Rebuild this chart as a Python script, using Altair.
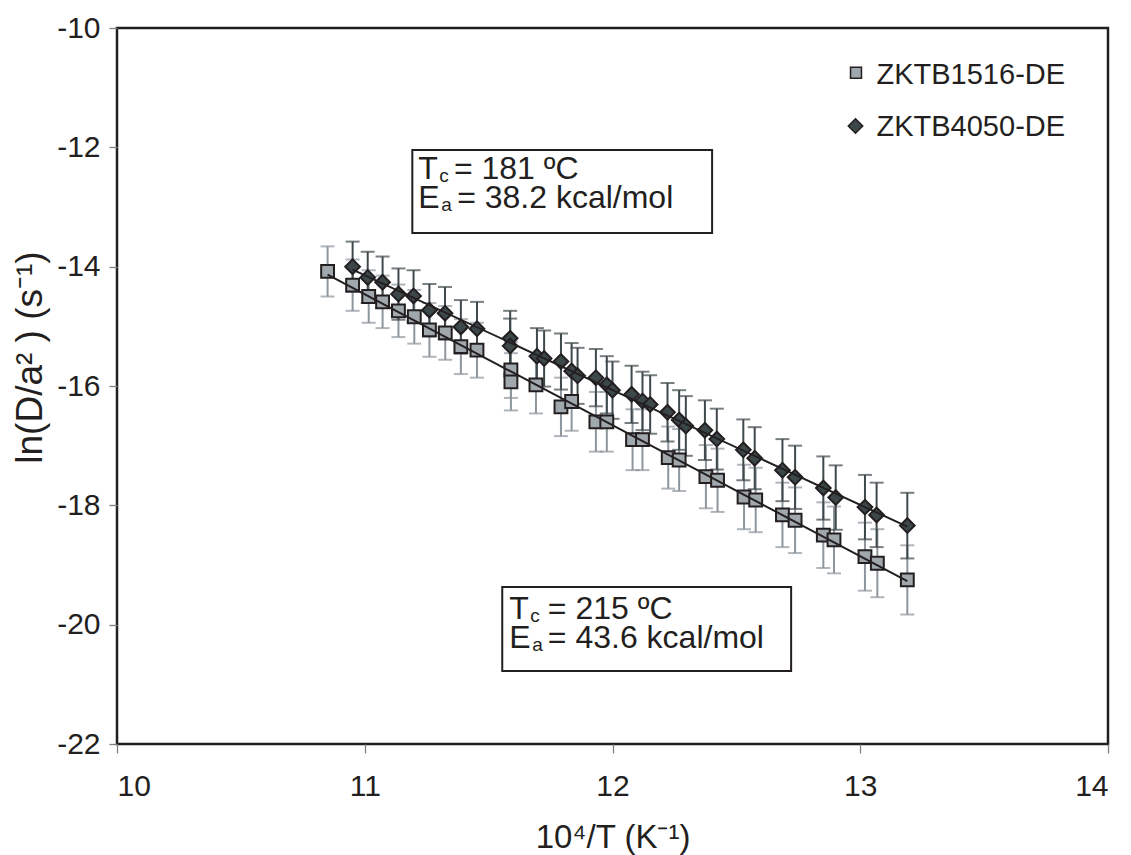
import altair as alt
import pandas as pd

# ---------------- data ----------------
series_names = ["ZKTB1516-DE", "ZKTB4050-DE"]

sq_x = [10.850, 10.951, 11.016, 11.072, 11.136, 11.200, 11.261, 11.325, 11.388, 11.453,
        11.590, 11.590, 11.691, 11.792, 11.835, 11.933, 11.977, 12.081, 12.121, 12.225,
        12.269, 12.377, 12.424, 12.531, 12.578, 12.686, 12.737, 12.851, 12.894, 13.019,
        13.069, 13.190]
sq_y = [-14.08, -14.31, -14.50, -14.59, -14.74, -14.84, -15.06, -15.11, -15.34, -15.40,
        -15.73, -15.93, -15.98, -16.35, -16.26, -16.60, -16.60, -16.90, -16.90, -17.20,
        -17.24, -17.52, -17.58, -17.86, -17.91, -18.16, -18.25, -18.50, -18.58, -18.86,
        -18.97, -19.25]
sq_err = [0.42, 0.43, 0.44, 0.44, 0.44, 0.45, 0.45, 0.45, 0.46, 0.46,
          0.47, 0.48, 0.48, 0.49, 0.49, 0.50, 0.50, 0.51, 0.51, 0.52,
          0.52, 0.53, 0.53, 0.54, 0.54, 0.54, 0.55, 0.55, 0.56, 0.57,
          0.57, 0.58]

di_x = [10.951, 11.012, 11.072, 11.136, 11.197, 11.261, 11.324, 11.388, 11.453, 11.587,
        11.587, 11.695, 11.724, 11.792, 11.835, 11.859, 11.933, 11.977, 12.000, 12.077,
        12.121, 12.152, 12.222, 12.269, 12.296, 12.373, 12.421, 12.528, 12.574, 12.686,
        12.737, 12.851, 12.901, 13.019, 13.066, 13.190]
di_y = [-14.00, -14.18, -14.26, -14.46, -14.49, -14.73, -14.78, -15.01, -15.04, -15.20,
        -15.33, -15.50, -15.54, -15.59, -15.75, -15.83, -15.86, -15.98, -16.07, -16.14,
        -16.25, -16.31, -16.44, -16.57, -16.67, -16.74, -16.89, -17.07, -17.21, -17.41,
        -17.53, -17.71, -17.87, -18.03, -18.16, -18.34]
di_err = [0.42, 0.43, 0.43, 0.43, 0.43, 0.44, 0.44, 0.45, 0.45, 0.46,
          0.46, 0.47, 0.47, 0.47, 0.47, 0.47, 0.48, 0.48, 0.48, 0.48,
          0.49, 0.49, 0.49, 0.50, 0.50, 0.50, 0.51, 0.51, 0.52, 0.52,
          0.53, 0.53, 0.54, 0.54, 0.54, 0.55]

x_ticks = [10, 11, 12, 13, 14]
y_ticks = [-22, -20, -18, -16, -14, -12, -10]

# annotation texts
ann_text = ["T", "c", "= 181 ºC", "E", "a", "= 38.2 kcal/mol",
            "T", "c", "= 215 ºC", "E", "a", "= 43.6 kcal/mol"]

# ---------------- layout constants ----------------
FONT = "Liberation Sans"
INK = "#231f20"
W, H = 991, 716

ann_x = [11.216, 11.301, 11.360, 11.216, 11.309, 11.373,
         11.583, 11.668, 11.739, 11.583, 11.676, 11.739]
ann_y = [-12.531, -12.585, -12.531, -13.017, -13.065, -13.017,
         -19.910, -19.962, -19.910, -20.395, -20.440, -20.395]
ann_fs = [32, 19, 32, 32, 19, 32, 32, 19, 32, 32, 19, 32]

box_x1 = [11.192, 11.555]
box_x2 = [12.402, 12.721]
box_y1 = [-12.045, -19.368]
box_y2 = [-13.436, -20.776]

fill_colors = ["#a0a7ad", "#3c4749"]
bar_colors = ["#8d969c", "#3f494c"]
shapes = ["square", "diamond"]

# ---------------- tables ----------------
sq = pd.DataFrame({"series": series_names[0], "x": sq_x, "y": sq_y, "err": sq_err})
di = pd.DataFrame({"series": series_names[1], "x": di_x, "y": di_y, "err": di_err})
df = pd.concat([sq, di], ignore_index=True)
df["lo"] = df["y"] - df["err"]
df["hi"] = df["y"] + df["err"]

ann = pd.DataFrame({"text": ann_text, "x": ann_x, "y": ann_y, "fs": ann_fs})
boxes = pd.DataFrame({"x": box_x1, "x2": box_x2, "y": box_y1, "y2": box_y2})

xs = alt.Scale(domain=[10, 14], nice=False, zero=False)
ys = alt.Scale(domain=[-22, -10], nice=False, zero=False)

x_axis = alt.Axis(values=x_ticks, tickSize=9, labelPadding=18, format="d",
                  titleX=W / 2, titleY=103, titleBaseline="alphabetic", titleAlign="center",
                  titleFontSize=33)
y_axis = alt.Axis(values=y_ticks, tickSize=8, labelPadding=9, labelExpr="'' + datum.value",
                  titleX=-76, titleY=329, titleAngle=270, titleBaseline="alphabetic",
                  titleAlign="center", titleFontSize=37)
X_TITLE = "10⁴/T (K⁻¹)"
Y_TITLE = "ln(D/a² ) (s⁻¹)"


def xenc(field):
    return alt.X(f"{field}:Q", scale=xs, axis=x_axis, title=X_TITLE)


def yenc(field):
    return alt.Y(f"{field}:Q", scale=ys, axis=y_axis, title=Y_TITLE)


bar_color = alt.Color("series:N", scale=alt.Scale(domain=series_names, range=bar_colors), legend=None)

layers = []
for i, name in enumerate(series_names):
    sub = alt.Chart(df).transform_filter(alt.datum.series == name)
    rule = sub.mark_rule(strokeWidth=2).encode(x=xenc("x"), y=yenc("lo"), y2="hi:Q", color=bar_color)
    tick_lo = sub.mark_tick(orient="horizontal", size=14, thickness=2).encode(
        x=xenc("x"), y=yenc("lo"), color=bar_color)
    tick_hi = sub.mark_tick(orient="horizontal", size=14, thickness=2).encode(
        x=xenc("x"), y=yenc("hi"), color=bar_color)
    layers += [rule, tick_lo, tick_hi]

for i, name in enumerate(series_names):
    pts = alt.Chart(df).transform_filter(alt.datum.series == name).mark_point(
        shape=shapes[i], filled=True, fill=fill_colors[i], stroke=INK, strokeWidth=2,
        size=165 if i == 0 else 215, opacity=1
    ).encode(x=xenc("x"), y=yenc("y"))
    layers.append(pts)

fit = alt.Chart(df).transform_regression("x", "y", groupby=["series"]).mark_line(
    color=INK, strokeWidth=2
).encode(x=xenc("x"), y=yenc("y"), detail="series:N")
layers.append(fit)

box_layer = alt.Chart(boxes).mark_rect(fillOpacity=0, stroke=INK, strokeWidth=2).encode(
    x=xenc("x"), x2="x2:Q", y=yenc("y"), y2="y2:Q")

ann_layer = alt.Chart(ann).mark_text(align="left", baseline="alphabetic", font=FONT, color=INK).encode(
    x=xenc("x"), y=yenc("y"), text="text:N", size=alt.Size("fs:Q", scale=None))

# manual legend (pixel positions inside plot area)
leg = pd.DataFrame({"name": series_names, "shape": shapes, "fill": fill_colors,
                    "px": [739.0, 738.5], "py": [44.7, 98.0], "tx": [759.5, 759.5],
                    "ty": [46.7, 99.3], "sz": [120, 210]})
leg_sym = alt.Chart(leg).mark_point(filled=True, stroke=INK, strokeWidth=1.5, opacity=1).encode(
    x=alt.X("px:Q", scale=None, axis=None), y=alt.Y("py:Q", scale=None, axis=None),
    shape=alt.Shape("shape:N", scale=None), fill=alt.Fill("fill:N", scale=None),
    size=alt.Size("sz:Q", scale=None))
leg_txt = alt.Chart(leg).mark_text(align="left", baseline="middle", font=FONT, fontSize=29, color=INK).encode(
    x=alt.X("tx:Q", scale=None, axis=None), y=alt.Y("ty:Q", scale=None, axis=None), text="name:N")

chart = alt.layer(box_layer, *layers, ann_layer).properties(width=W, height=H)
legend_chart = alt.layer(leg_sym, leg_txt).properties(width=W, height=H)

final = alt.layer(chart, legend_chart).resolve_scale(x="independent", y="independent").properties(
    padding={"left": 117, "top": 28, "right": 23, "bottom": 111},
    autosize=alt.AutoSizeParams(type="none"),
).configure_view(stroke=INK, strokeWidth=2.5).configure_axis(
    domain=False, grid=False, tickColor="#7f7f7f", tickWidth=1.3,
    labelFont=FONT, labelFontSize=30, labelColor=INK,
    titleFont=FONT, titleFontWeight="normal", titleColor=INK,
)

final.save("out.html", embed_options={"renderer": "svg", "actions": False})
